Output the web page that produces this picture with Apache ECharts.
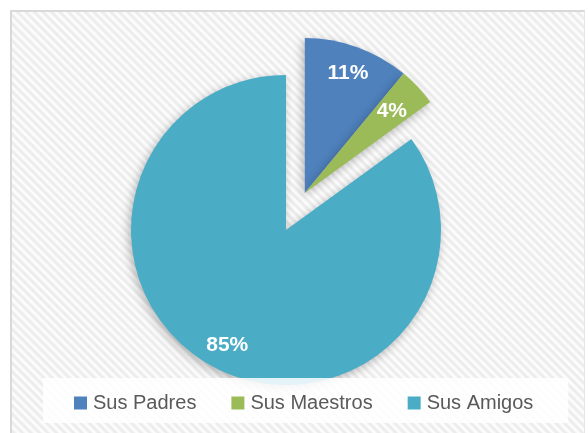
<!DOCTYPE html>
<html>
<head>
<meta charset="utf-8">
<script src="https://cdn.jsdelivr.net/npm/echarts@6/dist/echarts.min.js"></script>
<style>
  html, body { margin: 0; padding: 0; background: #ffffff; width: 588px; height: 433px; overflow: hidden; }
  #frame {
    position: absolute; left: 10px; top: 10px; width: 572px; height: 440px;
    border-top: 2px solid #d9d9d9; border-left: 2px solid #d9d9d9; border-right: 1px solid #e6e6e6;
    background: repeating-linear-gradient(45deg, #ffffff 0px, #e9e9e9 3px, #ffffff 6px);
  }
  #chart { position: absolute; left: 0; top: 0; width: 588px; height: 433px; }
</style>
</head>
<body>
<div id="frame"></div>
<div id="chart"></div>
<script>
// ---- data ----
const categories = ['Sus Padres', 'Sus Maestros', 'Sus Amigos'];
const values = [11, 4, 85];
const colors = ['#4F81BD', '#9BBB59', '#4BACC6'];
const exploded = [true, true, false];   // which slices are pulled out (as a group)

// ---- layout/style ----
const CX = 286, CY = 230, R = 155;
const EXPLODE_DIST = 41.5;
const labelRatio = [0.82, 0.77, 0.835];

const total = values.reduce((a, b) => a + b, 0);
const starts = [];
let acc = 0;
values.forEach(v => { starts.push(acc / total * 360); acc += v; });
const mids = values.map((v, i) => starts[i] + v / total * 180);

let gStart = null, gEnd = null;
values.forEach((v, i) => {
  if (exploded[i]) {
    const s = starts[i], e = starts[i] + v / total * 360;
    gStart = gStart === null ? s : Math.min(gStart, s);
    gEnd = gEnd === null ? e : Math.max(gEnd, e);
  }
});
const gMid = (gStart + gEnd) / 2 * Math.PI / 180;
const CX2 = CX + EXPLODE_DIST * Math.sin(gMid);
const CY2 = CY - EXPLODE_DIST * Math.cos(gMid);

function makeData(showExploded) {
  return values.map((v, i) => {
    const visible = exploded[i] === showExploded;
    if (visible) {
      return { name: categories[i], value: v, itemStyle: { color: colors[i] } };
    }
    return {
      name: '', value: v,
      itemStyle: { color: 'rgba(0,0,0,0)', shadowBlur: 0 },
      label: { show: false }, emphasis: { disabled: true }, tooltip: { show: false }
    };
  });
}

function labelLayoutFor(cx, cy) {
  return function (params) {
    const i = params.dataIndex;
    const a = mids[i] * Math.PI / 180;
    const r = R * labelRatio[i];
    return { x: cx + r * Math.sin(a), y: cy - r * Math.cos(a), align: 'center', verticalAlign: 'middle' };
  };
}

const commonSeries = {
  type: 'pie',
  radius: R,
  startAngle: 90,
  clockwise: true,
  avoidLabelOverlap: false,
  animation: false,
  label: {
    show: true, position: 'inside',
    formatter: p => p.value + '%',
    color: '#ffffff', fontFamily: 'Liberation Sans', fontWeight: 'bold', fontSize: 21
  },
  labelLine: { show: false },
  itemStyle: {
    borderWidth: 0,
    shadowBlur: 10, shadowColor: 'rgba(0,0,0,0.28)', shadowOffsetX: -2, shadowOffsetY: 3
  },
  emphasis: { scale: false }
};

const chart = echarts.init(document.getElementById('chart'), null, { renderer: 'canvas' });
chart.setOption({
  backgroundColor: 'transparent',
  legend: {
    data: categories,
    left: 43, top: 378,
    padding: [15, 35, 10, 31],
    backgroundColor: 'rgba(255,255,255,0.85)',
    itemWidth: 13, itemHeight: 13, itemGap: 35,
    icon: 'rect',
    textStyle: { fontFamily: 'Liberation Sans', fontSize: 20, color: '#595959', padding: [0, 0, 0, 1] },
    selectedMode: false
  },
  series: [
    Object.assign({}, commonSeries, {
      center: [CX, CY],
      data: makeData(false),
      labelLayout: labelLayoutFor(CX, CY)
    }),
    Object.assign({}, commonSeries, {
      center: [CX2, CY2],
      data: makeData(true),
      labelLayout: labelLayoutFor(CX2, CY2)
    })
  ]
});
</script>
</body>
</html>
